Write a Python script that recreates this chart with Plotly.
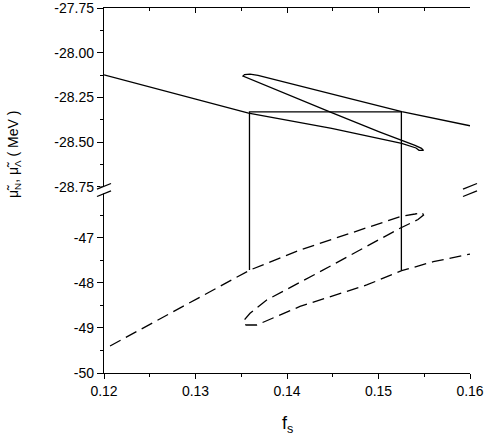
import plotly.graph_objects as go

# upper branch (solid), traced as one continuous path
solid_fs = [0.1200, 0.1280, 0.1358, 0.14488, 0.15253, 0.1541, 0.15443, 0.15492, 0.15470, 0.15399,
            0.15016, 0.14488, 0.13978, 0.1365, 0.13552, 0.13519, 0.13536, 0.13596, 0.13683,
            0.14161, 0.14689, 0.15254, 0.15617, 0.1600]
solid_mu = [-28.124, -28.230, -28.337, -28.423, -28.506, -28.532, -28.545, -28.546, -28.534, -28.518,
            -28.443, -28.335, -28.227, -28.158, -28.138, -28.130, -28.122, -28.120, -28.127,
            -28.190, -28.256, -28.329, -28.366, -28.408]

# lower branch (dashed)
dash_fs = [0.12066, 0.12831, 0.13596, 0.14142, 0.14871, 0.15235, 0.15399, 0.15475, 0.15492, 0.15432, 0.15344,
           0.15235, 0.14361, 0.13778, 0.13596, 0.13541, 0.13522, 0.13552, 0.13669,
           0.14142, 0.14871, 0.15253, 0.15599, 0.1600]
dash_mu = [-49.400, -48.556, -47.711, -47.267, -46.784, -46.527, -46.467, -46.433, -46.489, -46.589, -46.678,
           -46.784, -47.749, -48.378, -48.673, -48.800, -48.878, -48.933, -48.933,
           -48.522, -48.044, -47.727, -47.527, -47.356]

# box spanning both panels
box_fs = [0.1359, 0.1359, 0.1525, 0.1525]
box_mu = [-47.71, -28.33, -28.33, -47.71]

x_ticks = [0.12, 0.13, 0.14, 0.15, 0.16]
x_labels = ["0.12", "0.13", "0.14", "0.15", "0.16"]
up_ticks = [-27.75, -28.00, -28.25, -28.50, -28.75]
up_labels = ["-27.75", "-28.00", "-28.25", "-28.50", "-28.75"]
lo_ticks = [-47, -48, -49, -50]
lo_labels = ["-47", "-48", "-49", "-50"]

FONT = "Liberation Sans, Arial, sans-serif"
LW = 1.3

fig = go.Figure()
fig.add_trace(go.Scatter(x=solid_fs, y=solid_mu, mode="lines", xaxis="x2", yaxis="y2",
                         line=dict(color="black", width=LW)))
fig.add_trace(go.Scatter(x=dash_fs, y=dash_mu, mode="lines", xaxis="x", yaxis="y",
                         line=dict(color="black", width=LW, dash="12px,6px")))
# box drawn in both panels, each clipped to its own range
fig.add_trace(go.Scatter(x=box_fs, y=box_mu, mode="lines", xaxis="x2", yaxis="y2",
                         line=dict(color="black", width=LW)))
fig.add_trace(go.Scatter(x=box_fs, y=box_mu, mode="lines", xaxis="x", yaxis="y",
                         line=dict(color="black", width=LW)))

common = dict(showgrid=False, zeroline=False, showline=True, linecolor="black", linewidth=LW,
              tickcolor="black", tickwidth=LW, automargin=False, ticklabeloverflow="allow")
lo_dom = [0, 0.4932]
up_dom = [0.4932, 1]
up_range = [-28.7835, -27.75]
lo_range = [-50, -46]

fig.update_layout(
    width=486, height=436,
    margin=dict(l=104, r=16, t=8, b=63),
    plot_bgcolor="white", paper_bgcolor="white",
    showlegend=False,
    font=dict(family=FONT, size=14, color="black"),
    xaxis=dict(range=[0.12, 0.16], anchor="y", tickmode="array", tickvals=x_ticks, ticktext=x_labels,
               ticks="outside", ticklen=5,
               minor=dict(dtick=0.005, tick0=0.12, ticks="outside", ticklen=3, tickcolor="black", tickwidth=LW),
               **common),
    xaxis2=dict(range=[0.12, 0.16], anchor="y2", side="top", tickmode="array", tickvals=x_ticks,
                showticklabels=False, ticks="inside", ticklen=5,
                minor=dict(dtick=0.005, tick0=0.12, ticks="inside", ticklen=3, tickcolor="black", tickwidth=LW),
                **common),
    yaxis=dict(domain=lo_dom, range=lo_range, anchor="x", tickmode="array", tickvals=lo_ticks, ticktext=lo_labels,
               ticks="outside", ticklen=6,
               minor=dict(dtick=0.5, tick0=-50, ticks="outside", ticklen=3, tickcolor="black", tickwidth=LW),
               **common),
    yaxis2=dict(domain=up_dom, range=up_range, anchor="x2", tickmode="array", tickvals=up_ticks, ticktext=up_labels,
                ticks="outside", ticklen=6,
                minor=dict(dtick=0.125, tick0=-27.75, ticks="outside", ticklen=3, tickcolor="black", tickwidth=LW),
                **common),
    yaxis3=dict(overlaying="y2", anchor="x2", side="right", range=up_range, tickmode="array", tickvals=up_ticks,
                showticklabels=False, ticks="inside", ticklen=5,
                minor=dict(dtick=0.125, tick0=-27.75, ticks="inside", ticklen=3, tickcolor="black", tickwidth=LW),
                **common),
    yaxis4=dict(overlaying="y", anchor="x", side="right", range=lo_range, tickmode="array", tickvals=lo_ticks,
                showticklabels=False, ticks="inside", ticklen=5,
                minor=dict(dtick=0.5, tick0=-50, ticks="inside", ticklen=3, tickcolor="black", tickwidth=LW),
                **common),
)

# axis break: white gap in the side lines plus two slashes each side
def px_x(p):
    return (p - 104) / 366


def px_y(p):
    return (373 - p) / 365


for cx in (104, 470):
    fig.add_shape(type="rect", xref="paper", yref="paper", layer="above",
                  x0=px_x(cx - 4), x1=px_x(cx + 4), y0=px_y(193.5), y1=px_y(186.5),
                  fillcolor="white", line=dict(width=0))
    for cy in (186.3, 193.7):
        fig.add_shape(type="line", xref="paper", yref="paper", layer="above",
                      x0=px_x(cx - 7), y0=px_y(cy + 2.8), x1=px_x(cx + 7), y1=px_y(cy - 2.8),
                      line=dict(color="black", width=LW))

fig.add_annotation(text="\u03bc\u0303<sub>N</sub>, \u03bc\u0303<sub>\u039b</sub> ( MeV )", textangle=-90,
                   xref="paper", yref="paper", x=px_x(14), y=px_y(155), showarrow=False,
                   xanchor="center", yanchor="middle", font=dict(size=14))
fig.add_annotation(text="f<sub>s</sub>", xref="paper", yref="paper", x=px_x(287), y=px_y(424),
                   showarrow=False, xanchor="center", yanchor="middle", font=dict(size=18))

# page body has a default 8px margin; drop it so the figure fills the window
fig.write_html("out.html", config={"displayModeBar": False},
               post_script="document.body.style.margin = '0';")
